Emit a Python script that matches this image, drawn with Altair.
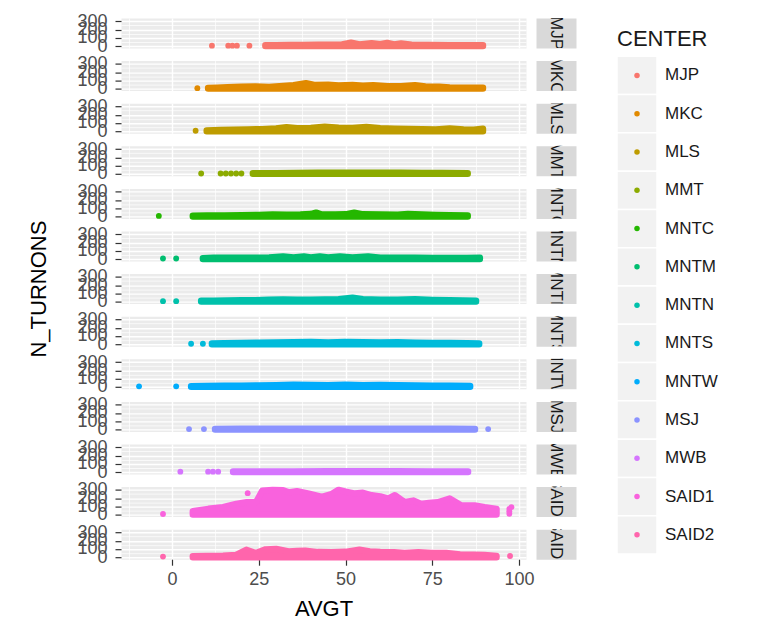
import altair as alt
import pandas as pd

CENTERS = ["MJP", "MKC", "MLS", "MMT", "MNTC", "MNTM", "MNTN", "MNTS",
           "MNTW", "MSJ", "MWB", "SAID1", "SAID2"]
PALETTE = ["#F8766D", "#E18A00", "#BE9C00", "#8CAB00", "#24B700", "#00BE70",
           "#00C1AB", "#00BBDA", "#00ACFC", "#8B93FF", "#D575FE", "#F962DD",
           "#FF65AC"]

X_GRID = [-12.5, 0, 12.5, 25, 37.5, 50, 62.5, 75, 87.5, 100]
Y_GRID = [0, 50, 100, 150, 200, 250, 300]
X_TITLE = "AVGT"
Y_TITLE = "N_TURNONS"
LEGEND_TITLE = "CENTER"

# (AVGT, N_TURNONS): isolated points and the upper edge of the dense band
MJP_DOTS = [(11.5, 4), (16.2, 4), (17.4, 4), (18.7, 4), (22.3, 4)]
MJP_BAND = [(26.9, 8), (30, 10), (34, 12), (38, 12), (42, 14), (46, 16), (49, 18), (51.6, 40),
            (54, 20), (57.5, 35), (60, 22), (62, 38), (64, 20), (66, 32), (69, 15), (74, 12),
            (80, 10), (85, 10), (89.6, 8)]
MKC_DOTS = [(7.3, 6)]
MKC_BAND = [(10.4, 8), (13, 12), (16, 16), (20, 22), (24, 25), (28, 20), (31, 30), (35, 40),
            (38.6, 65), (41, 45), (45, 48), (48, 38), (52, 45), (55, 35), (58, 42), (62, 30),
            (66, 28), (70, 42), (73, 25), (77, 22), (80, 15), (85, 12), (89.6, 10)]
MLS_DOTS = [(6.8, 6)]
MLS_BAND = [(10, 8), (14, 14), (18, 18), (22, 22), (26, 25), (30, 32), (33, 48), (36, 35),
            (40, 40), (44, 55), (48, 42), (52, 38), (56, 50), (60, 35), (64, 30), (68, 28),
            (72, 25), (76, 22), (80, 32), (84, 20), (87, 18), (89.6, 30)]
MMT_DOTS = [(8.4, 4), (14, 4), (15.5, 4), (17, 4), (18.5, 4), (20, 4)]
MMT_BAND = [(23.3, 6), (30, 8), (36, 10), (42, 12), (48, 14), (54, 14), (60, 12), (66, 12),
            (72, 10), (78, 10), (85.2, 8)]
MNTC_DOTS = [(-3.8, 6)]
MNTC_BAND = [(6.0, 8), (10, 10), (15, 12), (20, 14), (25, 18), (29, 22), (33, 20), (37, 22),
             (40, 28), (41.5, 45), (43, 25), (47, 22), (50, 25), (52.5, 45), (55, 25), (60, 22),
             (65, 20), (68, 28), (72, 24), (76, 18), (80, 14), (85.2, 10)]
MNTM_DOTS = [(-2.6, 6), (1.2, 6)]
MNTM_BAND = [(8.9, 10), (12, 15), (16, 16), (20, 14), (24, 16), (28, 18), (32, 30), (35, 18),
             (38, 30), (40, 18), (42.6, 30), (45, 18), (48.4, 30), (52, 20), (56.5, 32), (60, 16),
             (65, 15), (70, 14), (75, 13), (80, 13), (85, 12), (88.7, 15)]
MNTN_DOTS = [(-2.6, 6), (1.2, 6)]
MNTN_BAND = [(8.4, 10), (12, 12), (16, 14), (20, 16), (24, 18), (28, 24), (32, 26), (36, 22),
             (40, 22), (44, 26), (48, 30), (52, 48), (55, 28), (60, 24), (65, 22), (70, 28),
             (75, 20), (80, 16), (87.6, 12)]
MNTS_DOTS = [(5.5, 6), (8.9, 6)]
MNTS_BAND = [(11.5, 10), (15, 12), (20, 15), (25, 18), (30, 22), (35, 24), (40, 26), (45, 22),
             (50, 28), (55, 24), (60, 22), (65, 24), (70, 18), (75, 16), (80, 14), (85, 12),
             (88.5, 10)]
MNTW_DOTS = [(-9.5, 6), (1.2, 6)]
MNTW_BAND = [(5.5, 8), (10, 10), (15, 12), (20, 14), (25, 16), (30, 20), (35, 24), (40, 22),
             (45, 20), (50, 24), (55, 20), (60, 22), (65, 18), (70, 16), (75, 14), (80, 12),
             (85.9, 10)]
MSJ_DOTS = [(4.9, 4), (9.2, 4), (91.1, 4)]
MSJ_BAND = [(12.4, 5), (20, 7), (30, 8), (40, 9), (50, 9), (60, 9), (70, 8), (80, 7), (87.3, 5)]
MWB_DOTS = [(2.4, 4), (10.4, 4), (11.8, 4), (13.3, 4)]
MWB_BAND = [(17.6, 5), (25, 6), (35, 7), (45, 8), (55, 8), (65, 8), (75, 7), (85.3, 5)]
SAID1_DOTS = [(-2.6, 8), (21.8, 260), (97.2, 10), (97.2, 40), (97.2, 70), (97.8, 90)]
SAID1_BAND = [(6.0, 40), (10.5, 70), (14.7, 90), (18.5, 130), (21.5, 150), (24.2, 150),
              (26, 290), (29, 300), (32, 295), (33.6, 270), (36, 285), (39.4, 255), (43.2, 215),
              (46, 250), (48, 300), (50, 280), (52.7, 255), (55, 265), (57.5, 235), (60, 220),
              (62.3, 195), (64.2, 235), (67, 150), (69.5, 170), (71.8, 130), (74, 140),
              (76.6, 150), (80, 195), (83.4, 110), (87.2, 110), (90.1, 90), (93.5, 70)]
SAID2_DOTS = [(-2.6, 8), (97.4, 15)]
SAID2_BAND = [(6.0, 12), (10, 15), (14.7, 18), (18.5, 28), (21.4, 90), (24.2, 50), (27, 95),
              (30, 100), (33.6, 70), (36, 75), (38.4, 80), (42, 62), (46, 60), (50, 65), (54, 90),
              (57, 70), (60, 62), (64, 60), (67, 52), (71, 60), (75, 52), (79, 50), (83, 32),
              (87, 30), (90, 28), (93.5, 15)]

DOTS = [MJP_DOTS, MKC_DOTS, MLS_DOTS, MMT_DOTS, MNTC_DOTS, MNTM_DOTS, MNTN_DOTS,
        MNTS_DOTS, MNTW_DOTS, MSJ_DOTS, MWB_DOTS, SAID1_DOTS, SAID2_DOTS]
BANDS = [MJP_BAND, MKC_BAND, MLS_BAND, MMT_BAND, MNTC_BAND, MNTM_BAND, MNTN_BAND,
         MNTS_BAND, MNTW_BAND, MSJ_BAND, MWB_BAND, SAID1_BAND, SAID2_BAND]


def frame(groups):
    rows = []
    for c, pairs in zip(CENTERS, groups):
        for x, y in pairs:
            rows.append({"CENTER": c, "AVGT": x, "N_TURNONS": y})
    return pd.DataFrame(rows)


band_df = frame(BANDS)
dot_df = frame(DOTS)

FONT = "Liberation Sans"
PANEL_W, PANEL_H = 405, 30
X_SCALE = alt.Scale(domain=[-14.7, 102], nice=False, zero=False)
Y_SCALE = alt.Scale(domain=[-24, 340], nice=False, zero=False)
MAJOR_X = "datum.value % 25 === 0"
MAJOR_Y = "datum.value % 100 === 0"


def cond(test, a, b):
    return {"condition": {"test": test, "value": a}, "value": b}


def x_axis(bottom):
    common = dict(values=X_GRID, grid=True, gridColor="white",
                  gridWidth=cond(MAJOR_X, 1.4, 0.7), gridOpacity=1, domain=False)
    if bottom:
        return alt.Axis(**common, labelExpr=f"{MAJOR_X} ? '' + datum.value : ''",
                        ticks=True, tickColor=cond(MAJOR_X, "#333333", "transparent"),
                        tickSize=6, tickWidth=1.2, labelFontSize=18, labelColor="#4d4d4d",
                        labelPadding=5, labelFlush=False, labelOverlap=False,
                        title=X_TITLE, titleFontSize=22, titleFontWeight="normal",
                        titleColor="black", titlePadding=10)
    return alt.Axis(**common, labels=False, ticks=False, title=None)


def y_axis(with_title):
    common = dict(values=Y_GRID, grid=True, gridColor="white",
                  gridWidth=cond(MAJOR_Y, 1.4, 0.7), gridOpacity=1, domain=False,
                  labelExpr=f"{MAJOR_Y} ? '' + datum.value : ''",
                  ticks=True, tickColor=cond(MAJOR_Y, "#333333", "transparent"),
                  tickSize=6, tickWidth=1.2, labelFontSize=18, labelColor="#4d4d4d",
                  labelPadding=8, labelOverlap=False, labelFlush=False)
    if with_title:
        return alt.Axis(**common, title=Y_TITLE, titleFontSize=22, titleFontWeight="normal",
                        titleColor="black", titlePadding=26)
    return alt.Axis(**common, title=None)


panels = []
strips = []
n = len(CENTERS)
for i, (c, col) in enumerate(zip(CENTERS, PALETTE)):
    xa = x_axis(i == n - 1)
    ya = y_axis(i == n // 2)
    xenc = alt.X("AVGT:Q", scale=X_SCALE, axis=xa)
    yenc = alt.Y("N_TURNONS:Q", scale=Y_SCALE, axis=ya)
    area = alt.Chart(band_df).transform_filter(alt.datum.CENTER == c).mark_area(
        fill=col, stroke=col, strokeWidth=6.5, strokeJoin="round", opacity=1
    ).encode(x=xenc, y=yenc, y2=alt.datum(0))
    dots = alt.Chart(dot_df).transform_filter(alt.datum.CENTER == c).mark_circle(
        size=34, opacity=1, color=col
    ).encode(x=xenc, y=yenc)
    panels.append(alt.layer(area, dots).properties(
        width=PANEL_W, height=PANEL_H,
        view=alt.ViewBackground(fill="#ebebeb", stroke="transparent")))
    strips.append(alt.Chart(pd.DataFrame({"CENTER": [c]})).mark_text(
        angle=90, fontSize=17, color="#1a1a1a", clip=True, align="center", baseline="middle"
    ).encode(x=alt.value(20), y=alt.value(PANEL_H / 2), text="CENTER:N").properties(
        width=40, height=PANEL_H,
        view=alt.ViewBackground(fill="#d9d9d9", stroke="transparent")))

panel_col = alt.vconcat(*panels, spacing=12.6, bounds="flush")
strip_col = alt.vconcat(*strips, spacing=12.6, bounds="flush")
left = alt.hconcat(panel_col, strip_col, spacing=0)

leg_df = pd.DataFrame({"CENTER": CENTERS})
leg_y = alt.Y("CENTER:N", sort=CENTERS, axis=None,
              scale=alt.Scale(paddingInner=0, paddingOuter=0.5, align=1))
keys = alt.Chart(leg_df).mark_rect(fill="#f2f2f2", stroke="white", strokeWidth=1.5).encode(
    y=leg_y, x=alt.value(0), x2=alt.value(40))
key_dots = alt.Chart(leg_df).mark_circle(size=30, opacity=1).encode(
    y=leg_y, x=alt.value(20),
    color=alt.Color("CENTER:N", scale=alt.Scale(domain=CENTERS, range=PALETTE), legend=None))
key_text = alt.Chart(leg_df).mark_text(align="left", baseline="middle", fontSize=17,
                                       color="#1a1a1a").encode(
    y=leg_y, x=alt.value(48), text="CENTER:N")
leg_title = alt.Chart(pd.DataFrame({"t": [LEGEND_TITLE]})).mark_text(
    align="left", baseline="alphabetic", fontSize=22, color="#1a1a1a").encode(
    x=alt.value(0), y=alt.value(28), text="t:N")
legend = alt.layer(keys, key_dots, key_text, leg_title).properties(
    width=40, height=536, view=alt.ViewBackground(fill="white", stroke="transparent"))

chart = alt.hconcat(left, legend, spacing=38).properties(
    padding={"left": 19, "top": 3, "right": 5, "bottom": 5}
).configure(font=FONT).configure_view(stroke="transparent")

chart.save("out.html", embed_options={"renderer": "svg", "actions": False})
